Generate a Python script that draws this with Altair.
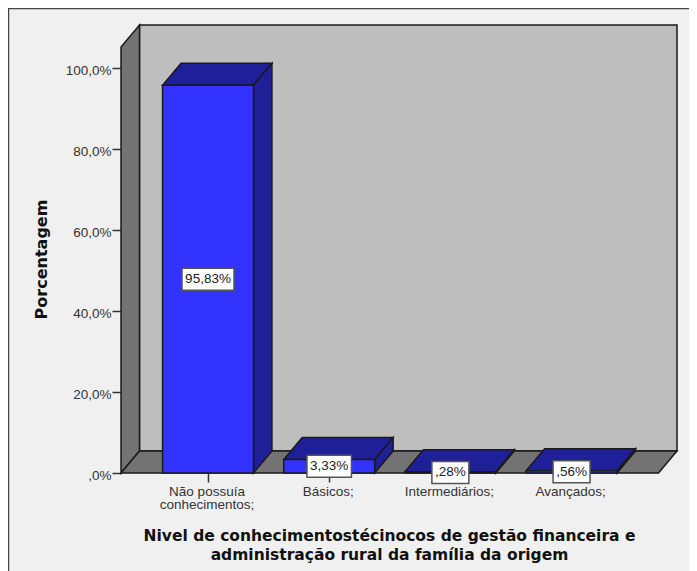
import altair as alt
import pandas as pd

categories = [["Não possuía", "conhecimentos;"], ["Básicos;"], ["Intermediários;"], ["Avançados;"]]
values = [95.83, 3.33, 0.28, 0.56]
value_labels = ["95,83%", "3,33%", ",28%", ",56%"]
y_ticks = [0, 20, 40, 60, 80, 100]
x_title = ["Nivel de conhecimentostécinocos de gestão financeira e",
           "administração rural da família da origem"]
y_title = "Porcentagem"

# Axis extents, in data units (category index / percent)
X_MIN, X_MAX = -0.718, 3.87
Y_MAX = 110.75
DX, DY = 0.1526, 5.44
HALF = 0.375
X_FRONT_MAX = X_MAX - DX
Y_FRONT_MAX = Y_MAX - DY
PX_X = 121.2
PX_Y = 4.045

BACK, SIDE, FRONT, DARK = "#bebebe", "#737373", "#3333ff", "#1f1f99"
EDGE = "#1a1a1a"


def face(name, pts):
    return [{"face": name, "x": a, "y": b, "y2": c} for a, b, c in pts]


walls = face("back", [(X_MIN + DX, DY, Y_MAX), (X_MAX, DY, Y_MAX)])
grey = (face("left", [(X_MIN, 0, Y_FRONT_MAX), (X_MIN + DX, DY, Y_MAX)])
        + face("floor", [(X_MIN, 0, 0), (X_MIN + DX, 0, DY),
                         (X_FRONT_MAX, 0, DY), (X_MAX, DY, DY)]))
dark, front = [], []
for i, v in enumerate(values):
    a, b = i - HALF, i + HALF
    dark += face(f"top{i}", [(a, v, v), (a + DX, v, v + DY), (b, v, v + DY), (b + DX, v + DY, v + DY)])
    dark += face(f"side{i}", [(b, 0, v), (b + DX, DY, v + DY)])
    front += face(f"front{i}", [(a, 0, v), (b, 0, v)])

sx = alt.Scale(domain=[X_MIN, X_MAX], nice=False, zero=False)
sy = alt.Scale(domain=[0, Y_MAX], nice=False)
label_expr = "[" + ",".join(str(c) for c in categories) + "][round(datum.value)]"

xaxis = alt.Axis(values=list(range(len(categories))), labelExpr=label_expr, title=x_title,
                 domain=False, grid=False, tickSize=9, tickColor="#333333", tickWidth=1.5,
                 labelFont="Liberation Sans", labelFontSize=13.5, labelColor="#333333", labelPadding=2,
                 labelLineHeight=13, labelFlush=False, labelOverlap=False, labelOffset=-1.5,
                 titleFont="DejaVu Sans", titleFontSize=15.5, titleFontWeight="bold", titleColor="#111111",
                 titleLineHeight=19, titleX=268, titleY=67, titleBaseline="alphabetic")
yaxis = alt.Axis(values=y_ticks,
                 labelExpr="replace(replace(format(datum.value, '.1f'), '.', ','), /^0/, '') + '%'",
                 title=y_title, domain=False, grid=False, tickSize=9, tickColor="#333333", tickWidth=1.5,
                 labelFont="Liberation Sans", labelFontSize=13.5, labelColor="#333333", labelPadding=1,
                 labelOverlap=False, labelOffset=2,
                 titleFont="DejaVu Sans", titleFontSize=16, titleFontWeight="bold", titleColor="#111111",
                 titleX=-72, titleY=234)
xenc = alt.X("x:Q", scale=sx, axis=xaxis)
yenc = alt.Y("y:Q", scale=sy, axis=yaxis)


def faces(rows, colour):
    return alt.Chart(alt.Data(values=rows)).mark_area(
        orient="vertical", fill=colour, stroke=EDGE, strokeWidth=1.5, opacity=1, clip=False
    ).encode(x=xenc, y=yenc, y2="y2:Q", detail="face:N")


boxes = pd.DataFrame({
    "label": value_labels,
    "mid": [v / 2 for v in values],
    "x": range(len(values)),
})
boxes["hw"] = (boxes["label"].str.len() * 7.5 + 7) / 2 / PX_X
boxes["x0"] = boxes["x"] - boxes["hw"]
boxes["x1"] = boxes["x"] + boxes["hw"]
boxes["y0"] = boxes["mid"] - 11 / PX_Y
boxes["y1"] = boxes["mid"] + 11 / PX_Y

box = alt.Chart(boxes).mark_rect(fill="white", stroke="#555555", strokeWidth=1.5).encode(
    x=alt.X("x0:Q", scale=sx), x2="x1:Q", y=alt.Y("y0:Q", scale=sy), y2="y1:Q")
txt = alt.Chart(boxes).mark_text(font="Liberation Sans", fontSize=13.5, color="#222222").encode(
    x=alt.X("x:Q", scale=sx), y=alt.Y("mid:Q", scale=sy), text="label:N")

blank = alt.Data(values=[{}])
frame_l = alt.Chart(blank).mark_rule(color="#444444", strokeWidth=1.5).encode(
    x=alt.value(-112.5), y=alt.value(-17), y2=alt.value(560))
frame_t = alt.Chart(blank).mark_rule(color="#444444", strokeWidth=1.5).encode(
    y=alt.value(-16.5), x=alt.value(-113), x2=alt.value(600))

chart = alt.layer(
    frame_l, frame_t, faces(walls, BACK), faces(grey, SIDE), faces(dark, DARK), faces(front, FRONT), box, txt
).properties(
    width=556, height=448,
    padding={"left": 113, "top": 17, "right": 12, "bottom": 98},
    autosize=alt.AutoSizeParams(type="none", contains="content"),
    background="#f0f0f0",
).configure_view(stroke=None)

chart.save("out.html", embed_options={"renderer": "svg", "actions": False})
